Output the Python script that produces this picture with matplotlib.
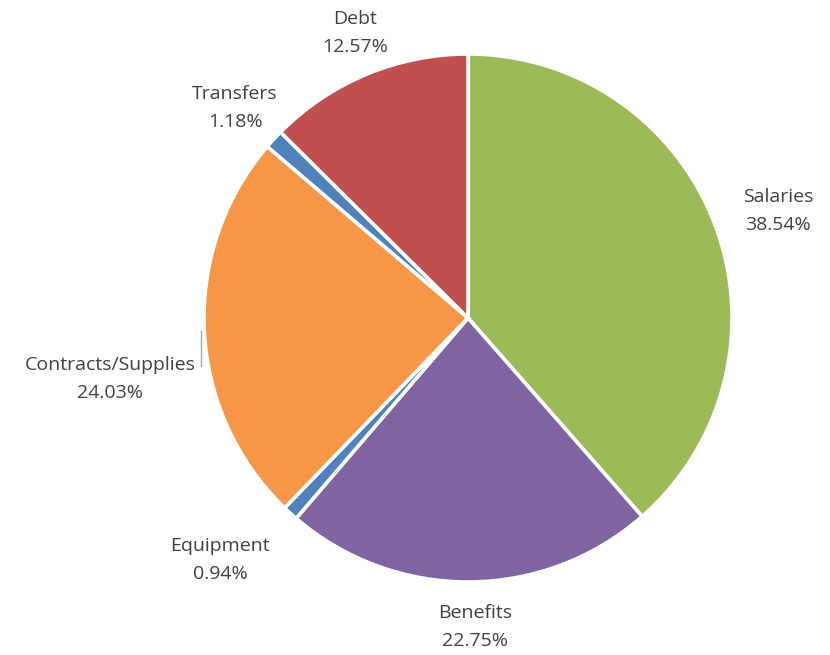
import matplotlib
matplotlib.use("Agg")
import matplotlib.pyplot as plt

categories = ["Salaries", "Benefits", "Equipment", "Contracts/Supplies", "Transfers", "Debt"]
values = [38.54, 22.75, 0.94, 24.03, 1.18, 12.57]
colors = ["#9BBB59", "#8064A2", "#4F81BD", "#F79646", "#4F81BD", "#C0504D"]

# label anchor positions (pixels, from top-left)
label_pos = [(778, 211), (475, 627), (220, 560), (110, 379), (235, 108), (355, 33)]

W, H = 830, 655
fig = plt.figure(figsize=(W / 100, H / 100), dpi=100)
ax = fig.add_axes([0, 0, 1, 1])

cx, cy, r = 468, H - 318, 264
ax.pie(values, colors=colors, startangle=90, counterclock=False,
       center=(cx, cy), radius=r, explode=[0.011] * len(values),
       wedgeprops=dict(edgecolor="white", linewidth=2.6), frame=True)
ax.set_xlim(0, W)
ax.set_ylim(0, H)
ax.set_aspect("equal")
ax.axis("off")

for name, v, (x, y) in zip(categories, values, label_pos):
    ax.text(x, H - y, f"{name}\n{v:.2f}%", ha="center", va="center",
            fontsize=14, color="#404040", family="Open Sans", linespacing=1.75)

# small leader line for Contracts/Supplies
ax.plot([201, 201], [H - 331, H - 366], color="#A6A6A6", lw=1)

fig.savefig("out.png", dpi=100)
